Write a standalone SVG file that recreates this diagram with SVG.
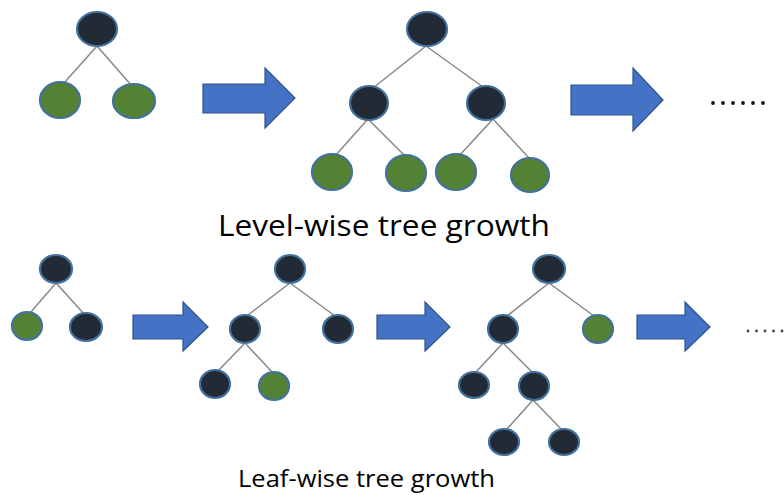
<svg xmlns="http://www.w3.org/2000/svg" width="784" height="495" viewBox="0 0 784 495">
<style>
.d{fill:#222a36;stroke:#41719c;stroke-width:2.2}
.g{fill:#548235;stroke:#41719c;stroke-width:2.2}
.e{stroke:#888;stroke-width:1.5;fill:none}
.a{fill:#4472c4;stroke:#2f528f;stroke-width:1.2}
.t{font-family:"Open Sans","Liberation Sans",sans-serif;fill:#000}
.dot{fill:#111}
.dot2{fill:#444}
</style>
<rect width="784" height="495" fill="#fff"/>
<g id="connectors">
<path class="e" d="M97 46L64 83M97 46L132 86"/>
<path class="e" d="M426 46L373 88M426 46L483 87M368 119L335 156M368 119L406 157M493 119L459 156M493 119L529 158"/>
<path class="e" d="M56 283L30 313M56 283L85 315"/>
<path class="e" d="M290 283L248 315M290 283L335 316M245 343L218 371M245 343L273 373"/>
<path class="e" d="M549 283L507 316M549 283L594 316M503 343L476 372M503 343L533 373M533 400L507 429M533 400L562 430"/>
</g>
<g id="level1">
<ellipse id="l1-root" class="d" cx="97" cy="29" rx="20" ry="17"/>
<ellipse id="l1-a" class="g" cx="60" cy="100" rx="20" ry="18"/>
<ellipse id="l1-b" class="g" cx="134" cy="101" rx="21" ry="17"/>
</g>
<g id="level2">
<ellipse id="l2-root" class="d" cx="427" cy="29" rx="20" ry="17"/>
<ellipse id="l2-a" class="d" cx="369" cy="103" rx="19" ry="17"/>
<ellipse id="l2-b" class="d" cx="486" cy="103" rx="19" ry="17"/>
<ellipse id="l2-c" class="g" cx="332" cy="172" rx="20" ry="18"/>
<ellipse id="l2-d" class="g" cx="406" cy="173" rx="20" ry="18"/>
<ellipse id="l2-e" class="g" cx="456" cy="172" rx="20" ry="18"/>
<ellipse id="l2-f" class="g" cx="530" cy="175" rx="19" ry="17"/>
</g>
<g id="arrows">
<path class="a" d="M203 84H265V68L295 98L265 128V113H203Z"/>
<path class="a" d="M571 85H633V68L663 100L633 131V115H571Z"/>
<path class="a" d="M133 315H183V302L208 327L183 351V339H133Z"/>
<path class="a" d="M377 315H425V302L450 327L425 351V339H377Z"/>
<path class="a" d="M637 315H685V302L710 327L685 351V339H637Z"/>
</g>
<g id="dots-top">
<circle class="dot" cx="713" cy="103" r="1.9"/>
<circle class="dot" cx="723" cy="103" r="1.9"/>
<circle class="dot" cx="733" cy="103" r="1.9"/>
<circle class="dot" cx="743" cy="103" r="1.9"/>
<circle class="dot" cx="753" cy="103" r="1.9"/>
<circle class="dot" cx="763" cy="103" r="1.9"/>
</g>
<g id="dots-bottom">
<circle class="dot2" cx="748" cy="331" r="1.4"/>
<circle class="dot2" cx="756.5" cy="331" r="1.4"/>
<circle class="dot2" cx="765" cy="331" r="1.4"/>
<circle class="dot2" cx="773.5" cy="331" r="1.4"/>
<circle class="dot2" cx="782" cy="331" r="1.4"/>
</g>
<text class="t" x="218" y="236" font-size="29" textLength="332" lengthAdjust="spacingAndGlyphs">Level-wise tree growth</text>
<g id="leaf1">
<ellipse id="f1-root" class="d" cx="56" cy="269" rx="16" ry="14"/>
<ellipse id="f1-a" class="g" cx="27" cy="326" rx="15" ry="14"/>
<ellipse id="f1-b" class="d" cx="86" cy="327" rx="16" ry="14"/>
</g>
<g id="leaf2">
<ellipse id="f2-root" class="d" cx="290" cy="269" rx="15" ry="14"/>
<ellipse id="f2-a" class="d" cx="245" cy="329" rx="15" ry="14"/>
<ellipse id="f2-b" class="d" cx="338" cy="329" rx="15" ry="14"/>
<ellipse id="f2-c" class="d" cx="215" cy="384" rx="15" ry="14"/>
<ellipse id="f2-d" class="g" cx="274" cy="386" rx="15" ry="14"/>
</g>
<g id="leaf3">
<ellipse id="f3-root" class="d" cx="549" cy="269" rx="16" ry="14"/>
<ellipse id="f3-a" class="d" cx="503" cy="329" rx="15" ry="14"/>
<ellipse id="f3-b" class="g" cx="598" cy="329" rx="15" ry="14"/>
<ellipse id="f3-c" class="d" cx="474" cy="385" rx="15" ry="13"/>
<ellipse id="f3-d" class="d" cx="534" cy="386" rx="15" ry="14"/>
<ellipse id="f3-e" class="d" cx="504" cy="442" rx="15" ry="13"/>
<ellipse id="f3-f" class="d" cx="564" cy="442" rx="15" ry="13"/>
</g>
<text class="t" x="238" y="487" font-size="23" textLength="257" lengthAdjust="spacingAndGlyphs">Leaf-wise tree growth</text>
</svg>
